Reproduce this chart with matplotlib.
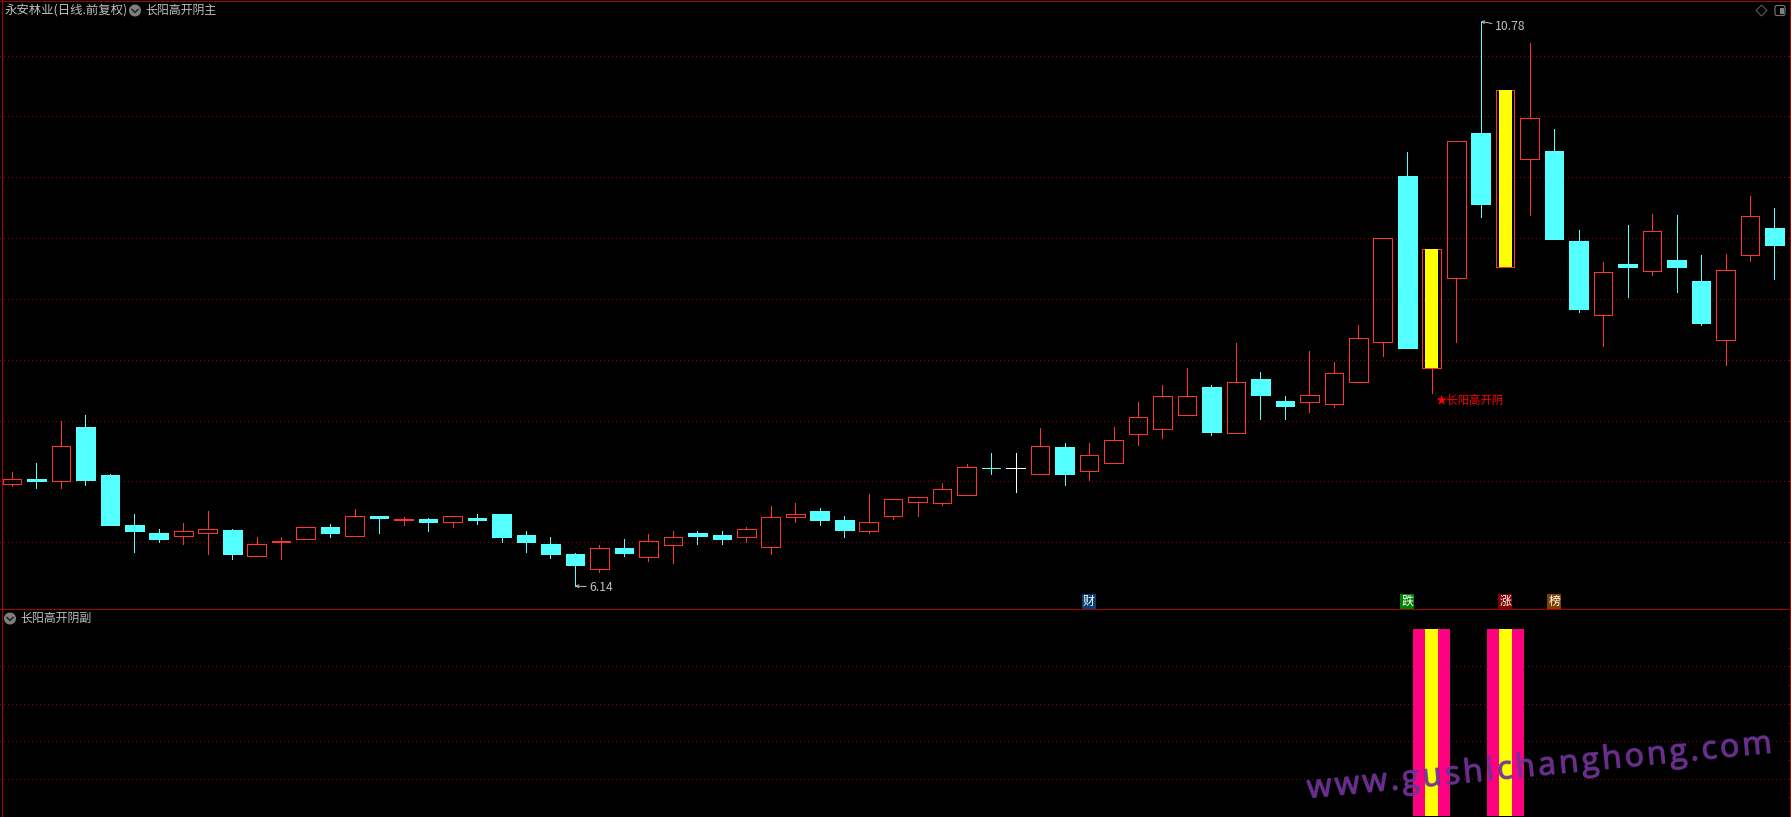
import matplotlib
matplotlib.use('Agg')
import matplotlib.pyplot as plt
import matplotlib.patheffects as pe
from matplotlib.patches import Circle, FancyBboxPatch, Polygon, Rectangle
import numpy as np

plt.rcParams['font.family'] = ['Noto Sans CJK SC', 'DejaVu Sans']

# daily prices
opens = [6.98, 7.02, 7.00, 7.45, 7.05, 6.64, 6.58, 6.55, 6.58, 6.60,
         6.39, 6.50, 6.53, 6.63, 6.55, 6.72, 6.68, 6.69, 6.67, 6.70,
         6.73, 6.56, 6.49, 6.40, 6.28, 6.45, 6.38, 6.48, 6.58, 6.56,
         6.54, 6.46, 6.71, 6.76, 6.68, 6.59, 6.72, 6.83, 6.82, 6.89,
         7.11, 7.11, 7.06, 7.28, 7.09, 7.15, 7.39, 7.43, 7.55, 7.78,
         7.40, 7.84, 7.66, 7.65, 7.64, 7.82, 8.15, 9.51, 7.93, 8.67,
         9.86, 8.76, 9.65, 9.72, 8.98, 8.37, 8.79, 8.73, 8.82, 8.65,
         8.16, 8.86, 9.08]
closes = [7.02, 7.00, 7.29, 7.01, 6.64, 6.59, 6.53, 6.59, 6.61, 6.40,
          6.49, 6.51, 6.63, 6.58, 6.72, 6.70, 6.69, 6.67, 6.72, 6.68,
          6.54, 6.50, 6.40, 6.31, 6.45, 6.41, 6.51, 6.54, 6.55, 6.53,
          6.61, 6.71, 6.73, 6.68, 6.60, 6.67, 6.86, 6.87, 6.94, 7.12,
          7.11, 7.11, 7.29, 7.06, 7.22, 7.34, 7.53, 7.70, 7.70, 7.41,
          7.82, 7.71, 7.62, 7.71, 7.89, 8.18, 9.00, 8.10, 8.91, 9.80,
          9.28, 10.22, 9.99, 8.99, 8.42, 8.72, 8.76, 9.06, 8.76, 8.30,
          8.74, 9.18, 8.94]
highs = [7.08, 7.15, 7.50, 7.55, 7.06, 6.73, 6.61, 6.66, 6.76, 6.61,
         6.54, 6.54, 6.63, 6.65, 6.77, 6.72, 6.71, 6.70, 6.72, 6.73,
         6.73, 6.59, 6.54, 6.41, 6.48, 6.53, 6.57, 6.59, 6.59, 6.59,
         6.63, 6.80, 6.82, 6.78, 6.72, 6.90, 6.86, 6.87, 6.99, 7.14,
         7.23, 7.23, 7.44, 7.32, 7.32, 7.45, 7.65, 7.79, 7.93, 7.79,
         8.14, 7.90, 7.70, 8.07, 7.98, 8.29, 9.00, 9.71, 8.91, 9.80,
         10.78, 10.22, 10.60, 9.90, 9.07, 8.80, 9.11, 9.20, 9.19, 8.86,
         8.87, 9.35, 9.25]
lows = [6.96, 6.95, 6.95, 6.97, 6.64, 6.42, 6.50, 6.49, 6.40, 6.36,
        6.39, 6.36, 6.53, 6.54, 6.55, 6.58, 6.64, 6.59, 6.63, 6.65,
        6.50, 6.42, 6.37, 6.14, 6.26, 6.39, 6.35, 6.33, 6.49, 6.49,
        6.50, 6.40, 6.67, 6.64, 6.54, 6.58, 6.69, 6.72, 6.81, 6.89,
        7.06, 6.91, 7.06, 6.97, 7.01, 7.15, 7.30, 7.36, 7.55, 7.38,
        7.40, 7.51, 7.51, 7.57, 7.61, 7.82, 8.03, 8.10, 7.73, 8.15,
        9.17, 8.76, 9.19, 8.99, 8.39, 8.11, 8.52, 8.70, 8.56, 8.29,
        7.96, 8.81, 8.66]

doji_colors = {40: '#54FFFF', 41: '#FFFFFF'}
signal_days = [58, 61]
signal_values = [1, 1]
price_grid = [6.5, 7.0, 7.5, 8.0, 8.5, 9.0, 9.5, 10.0, 10.5]
sub_grid = [0.2, 0.4, 0.6, 0.8]
event_days = [44, 57, 61, 63]
event_labels = ['财', '跌', '涨', '榜']
event_colors = ['#0A3F73', '#007F00', '#800000', '#804000']

RED = '#FF3232'
CYAN = '#54FFFF'
GRID = '#8C0000'
BORDER = '#A80000'
GREY = '#C0C0C0'
PX = 0.72  # one pixel in points at dpi 100

W, H = 1791, 817
SEP = 609
fig = plt.figure(figsize=(W / 100, H / 100), dpi=100, facecolor='black')
ax = fig.add_axes([0, 1 - SEP / H, 1, SEP / H], facecolor='black')
sub = fig.add_axes([0, 0, 1, 1 - SEP / H], facecolor='black', sharex=ax)
over = fig.add_axes([0, 0, 1, 1], facecolor='none')
over.set_xlim(0, W)
over.set_ylim(H, 0)
over.axis('off')

days = np.arange(len(opens))
o, c, h, l = map(np.array, (opens, closes, highs, lows))
up = c > o
down = c < o
flat = c == o
top = np.maximum(o, c)
bot = np.minimum(o, c)
colors = np.where(up, RED, CYAN)

# wicks stop at the body because the red bodies are hollow
ax.vlines(days, top, h, colors=colors, lw=PX, antialiased=False, zorder=2)
ax.vlines(days, l, bot, colors=colors, lw=PX, antialiased=False, zorder=2)
ax.bar(days[up], (c - o)[up], bottom=o[up], width=0.76, facecolor='none',
       edgecolor=RED, lw=PX, antialiased=False, zorder=3)
ax.bar(days[down], (o - c)[down], bottom=c[down], width=0.76, facecolor=CYAN,
       edgecolor=CYAN, lw=PX, antialiased=False, zorder=3)
for d in days[flat]:
    ax.vlines(d, l[d], h[d], colors=doji_colors[d], lw=PX, antialiased=False, zorder=2)
    ax.hlines(c[d], d - 0.38, d + 0.38, colors=doji_colors[d], lw=PX, antialiased=False, zorder=3)

# signal days: yellow core inside the red body
ax.bar(signal_days, (c - o)[signal_days], bottom=o[signal_days], width=0.53,
       color='#FFFF00', antialiased=False, zorder=4)

ax.set_xlim(-11.9 / 24.48, (W - 11.9) / 24.48)
ax.set_ylim(5.952, 10.957)
ax.set_yticks(price_grid)
ax.grid(axis='y', color=GRID, lw=PX, linestyle=(0, (1, 3)), antialiased=False)
ax.set_axisbelow(True)
ax.tick_params(axis='y', which='both', right=True, left=False, direction='in',
               length=2, color=BORDER, labelleft=False)
ax.tick_params(axis='x', bottom=False, labelbottom=False)
for s in ax.spines.values():
    s.set_visible(False)

# high and low labels
ax.annotate('10.78', xy=(60, 10.78), xytext=(14, -5), textcoords='offset pixels',
            color=GREY, fontsize=8.8, va='center', ha='left', zorder=6,
            arrowprops=dict(arrowstyle='->', color=GREY, lw=PX, shrinkA=0, shrinkB=0,
                            mutation_scale=5))
ax.annotate('6.14', xy=(23, 6.14), xytext=(14, -1), textcoords='offset pixels',
            color=GREY, fontsize=8.8, va='center', ha='left', zorder=6,
            arrowprops=dict(arrowstyle='->', color=GREY, lw=PX, shrinkA=0, shrinkB=0,
                            mutation_scale=5))

ax.text(58.15, 7.67, '★长阳高开阴', color='#FF0000', fontsize=8.2, va='center',
        ha='left', zorder=6)

for d, lab, col in zip(event_days, event_labels, event_colors):
    ax.text(d, 6.012, lab, color='white', fontsize=8.6, ha='center', va='center', zorder=6,
            bbox=dict(boxstyle='square,pad=0.08', facecolor=col, edgecolor='none'))

# lower pane
sub.bar(signal_days, signal_values, width=1.51, color='#FF0080', antialiased=False, zorder=3)
sub.bar(signal_days, signal_values, width=0.53, color='#FFFF00', antialiased=False, zorder=4)
sub.set_ylim(-0.005, 1.107)
sub.set_yticks(sub_grid)
sub.set_yticks(np.arange(0.1, 1.0, 0.2), minor=True)
sub.grid(axis='y', color=GRID, lw=PX, linestyle=(0, (1, 3)), antialiased=False)
sub.set_axisbelow(True)
sub.tick_params(axis='y', which='both', right=True, left=False, direction='in',
                length=2, color=BORDER, labelleft=False)
sub.tick_params(axis='x', bottom=False, labelbottom=False)
for s in sub.spines.values():
    s.set_visible(False)

# frame
over.plot([1.5, 1.5], [0, H], color=BORDER, lw=PX, antialiased=False)
over.plot([1789.5, 1789.5], [0, H], color=BORDER, lw=PX, antialiased=False)
over.plot([0, W], [0.6, 0.6], color=BORDER, lw=PX, antialiased=False)
over.plot([0, W], [SEP, SEP], color=BORDER, lw=PX, antialiased=False)

# header texts and icons
def chevron(x, y):
    over.add_patch(Circle((x, y), 6, facecolor='#7F7F7F', edgecolor='none'))
    over.plot([x - 3, x, x + 3], [y - 1, y + 2, y - 1], color='#222222', lw=1.1)

over.text(4.5, 10.5, '永安林业(日线.前复权)', color=GREY, fontsize=8.9, va='center')
chevron(135, 10.5)
over.text(145.5, 10.5, '长阳高开阴主', color=GREY, fontsize=8.6, va='center')
chevron(10, 618.5)
over.text(20, 618.5, '长阳高开阴副', color=GREY, fontsize=8.6, va='center')

over.add_patch(Polygon([(1761.5, 5), (1767, 10.5), (1761.5, 16), (1756, 10.5)], closed=True,
                       facecolor='none', edgecolor='#606060', lw=PX))
over.add_patch(FancyBboxPatch((1775.5, 6), 9, 9, boxstyle='round,pad=0.5,rounding_size=2',
                              facecolor='none', edgecolor='#707070', lw=PX * 1.2))
over.add_patch(Rectangle((1780, 7.5), 3.5, 6, facecolor='#808080', edgecolor='none'))

# watermark, letter by letter with tracking
mark = 'www.gushichanghong.com'
angle = np.radians(5.6)
mark_size = 23
mark_style = dict(color='#85288F', alpha=0.72, fontsize=mark_size, family='Open Sans',
                  rotation=5.6, rotation_mode='anchor', ha='left', va='baseline', zorder=10,
                  path_effects=[pe.withStroke(linewidth=1.0, foreground='#4C46A8', alpha=0.7)])
renderer = fig.canvas.get_renderer()
widths = []
for ch in mark:
    t = over.text(0, 0, ch, fontsize=mark_size, family='Open Sans')
    widths.append(t.get_window_extent(renderer).width)
    t.remove()
extra = (467 - sum(widths)) / (len(mark) - 1)
pos = 0
for ch, w in zip(mark, widths):
    over.text(1308 + pos * np.cos(angle), 798 - pos * np.sin(angle), ch, **mark_style)
    pos += w + extra

fig.savefig('out.png', dpi=100, facecolor='black')
